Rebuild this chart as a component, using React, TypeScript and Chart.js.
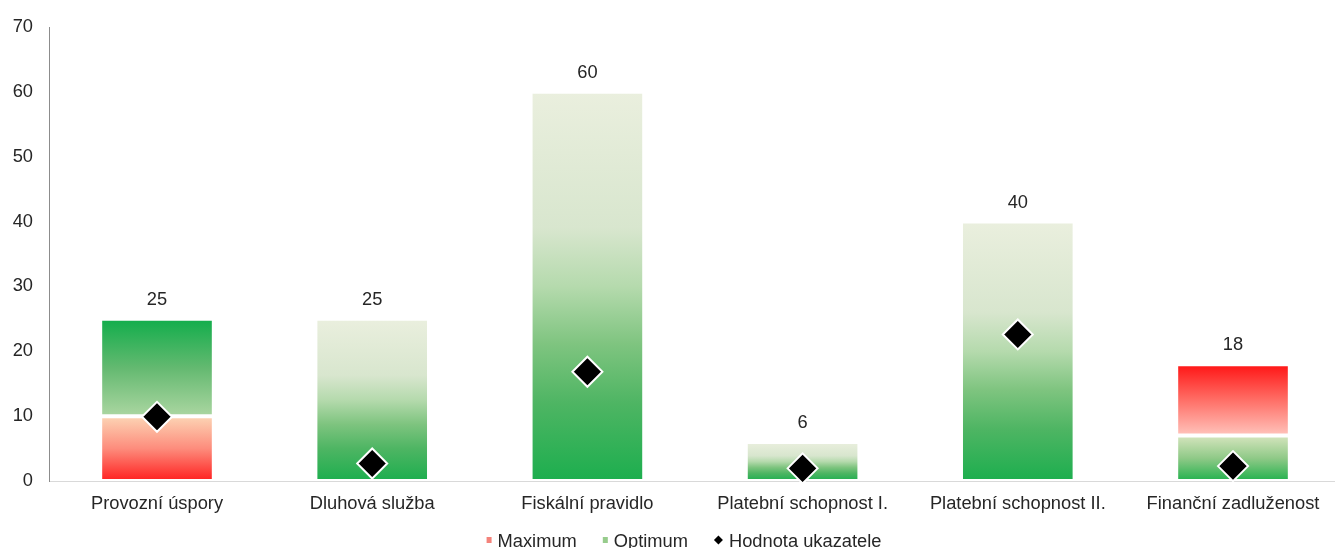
import React, { useEffect, useRef } from "react";
import { Chart, registerables } from "chart.js";

Chart.register(...registerables);

const categories = [
  "Provozní úspory",
  "Dluhová služba",
  "Fiskální pravidlo",
  "Platební schopnost I.",
  "Platební schopnost II.",
  "Finanční zadluženost",
];
const maximumStart: (number | null)[] = [0, null, null, null, null, 7];
const maximumEnd: (number | null)[] = [10, null, null, null, null, 18];
const optimumStart: number[] = [10, 0, 0, 0, 0, 0];
const optimumEnd: number[] = [25, 25, 60, 6, 40, 7];
const indicatorValues: number[] = [9.9, 2.7, 16.85, 1.95, 22.6, 2.3];
const totalLabels: number[] = [25, 25, 60, 6, 40, 18];
const yTicks = { min: 0, max: 70, step: 10 };
const legendLabels = ["Maximum", "Optimum", "Hodnota ukazatele"];

const FONT = "Arial, 'Liberation Sans', sans-serif";
const FS = 18.3;
const TEXT = "#262626";

type Stop = [number, string];
// gradient stops from bottom (0) to top (1)
const redUp: Stop[] = [[0, "#FF1F1F"], [0.5, "#FD8C7C"], [1, "#FCD5B5"]];
const redDown: Stop[] = [[0, "#FFC4BC"], [0.5, "#FF6E66"], [1, "#FF1414"]];
const greenLightBottom: Stop[] = [[0, "#ABD6A1"], [0.5, "#63B970"], [1, "#11AD4B"]];
const greenDarkBottom: Stop[] = [
  [0, "#1CAE4E"],
  [0.2, "#4EB563"],
  [0.35, "#7EC47F"],
  [0.5, "#B5DAAD"],
  [0.65, "#D8E6CE"],
  [1, "#EAEFDE"],
];
const greenSmall: Stop[] = [[0, "#22B14D"], [0.5, "#8FC987"], [1, "#D6E5BE"]];

const maximumStyles: (Stop[] | null)[] = [redUp, null, null, null, null, redDown];
const optimumStyles: Stop[][] = [
  greenLightBottom,
  greenDarkBottom,
  greenDarkBottom,
  greenDarkBottom,
  greenDarkBottom,
  greenSmall,
];

const legendMarkers = [
  { shape: "rect", color: "#F4837B", w: 5 },
  { shape: "rect", color: "#97CC8C", w: 5 },
  { shape: "diamond", color: "#000000", w: 9 },
];

function gradientFor(stylesArr: (Stop[] | null)[]) {
  return (ctx: any) => {
    const chart = ctx.chart;
    if (!chart.chartArea || ctx.type !== "data") return "#999";
    const raw = ctx.raw as [number, number] | null;
    const stops = stylesArr[ctx.dataIndex];
    if (!raw || !stops) return "rgba(0,0,0,0)";
    const ys = chart.scales.y;
    const yb = ys.getPixelForValue(raw[0]);
    const yt = ys.getPixelForValue(raw[1]);
    const g = chart.ctx.createLinearGradient(0, yb, 0, yt);
    stops.forEach(([o, c]) => g.addColorStop(o, c));
    return g;
  };
}

const totalsPlugin = {
  id: "totals",
  afterDatasetsDraw(chart: any) {
    const { ctx } = chart;
    const xs = chart.scales.x;
    const ys = chart.scales.y;
    ctx.save();
    ctx.font = `${FS}px ${FONT}`;
    ctx.fillStyle = TEXT;
    ctx.textAlign = "center";
    ctx.textBaseline = "middle";
    totalLabels.forEach((v, i) => {
      ctx.fillText(String(v), xs.getPixelForValue(i), ys.getPixelForValue(v) - 19);
    });
    ctx.restore();
  },
};

const legendPlugin = {
  id: "bottomLegend",
  afterDraw(chart: any) {
    const { ctx } = chart;
    ctx.save();
    ctx.font = `${FS}px ${FONT}`;
    const gapMarker = 6;
    const gapItem = 26;
    const widths = legendLabels.map((t) => ctx.measureText(t).width);
    let total = 0;
    legendLabels.forEach((_, i) => {
      total += legendMarkers[i].w + gapMarker + widths[i];
    });
    total += gapItem * (legendLabels.length - 1);
    let x = 684 - total / 2;
    const baseY = 547;
    const midY = 540;
    legendLabels.forEach((t, i) => {
      const m = legendMarkers[i];
      ctx.fillStyle = m.color;
      if (m.shape === "rect") {
        ctx.fillRect(x, midY - 3, m.w, 6);
      } else {
        const h = m.w / 2;
        ctx.beginPath();
        ctx.moveTo(x + h, midY - h);
        ctx.lineTo(x + m.w, midY);
        ctx.lineTo(x + h, midY + h);
        ctx.lineTo(x, midY);
        ctx.closePath();
        ctx.fill();
      }
      x += m.w + gapMarker;
      ctx.fillStyle = TEXT;
      ctx.textAlign = "left";
      ctx.textBaseline = "alphabetic";
      ctx.fillText(t, x, baseY);
      x += widths[i] + gapItem;
    });
    ctx.restore();
  },
};

export default function App() {
  const ref = useRef<HTMLCanvasElement | null>(null);
  useEffect(() => {
    if (!ref.current) return;
    const chart = new Chart(ref.current, {
      type: "bar",
      data: {
        labels: categories,
        datasets: [
          {
            type: "line",
            label: legendLabels[2],
            data: indicatorValues,
            showLine: false,
            pointStyle: "rectRot",
            pointRadius: 15,
            pointHoverRadius: 15,
            pointBackgroundColor: "#000000",
            pointBorderColor: "#FFFFFF",
            pointBorderWidth: 2,
            order: -1,
            clip: false,
          } as any,
          {
            label: legendLabels[0],
            data: maximumStart.map((s, i) => (s === null ? null : [s, maximumEnd[i] as number])) as any,
            backgroundColor: gradientFor(maximumStyles),
            borderColor: "#FFFFFF",
            borderWidth: 2,
            borderSkipped: false,
            grouped: false,
            categoryPercentage: 1,
            barPercentage: 0.528,
          } as any,
          {
            label: legendLabels[1],
            data: optimumStart.map((s, i) => [s, optimumEnd[i]]) as any,
            backgroundColor: gradientFor(optimumStyles),
            borderColor: "#FFFFFF",
            borderWidth: 2,
            borderSkipped: false,
            grouped: false,
            categoryPercentage: 1,
            barPercentage: 0.528,
          } as any,
        ],
      },
      options: {
        animation: false,
        responsive: false,
        devicePixelRatio: 1,
        layout: { autoPadding: false, padding: { left: 0, right: 4.4, top: 27, bottom: 0 } },
        scales: {
          x: {
            grid: { display: false, drawTicks: false },
            border: { display: true, color: "#D9D9D9", width: 1 },
            ticks: { color: TEXT, font: { family: FONT, size: FS }, padding: 12, maxRotation: 0, autoSkip: false },
            afterFit: (s: any) => {
              s.height = 67;
              s.paddingLeft = 0;
              s.paddingRight = 0;
            },
          },
          y: {
            min: yTicks.min,
            max: yTicks.max,
            grid: { display: false, drawTicks: false },
            border: { display: true, color: "#8C8C8C", width: 1 },
            ticks: { stepSize: yTicks.step, color: TEXT, font: { family: FONT, size: FS }, padding: 16.4 },
            afterFit: (s: any) => {
              s.width = 49.4;
              s.paddingTop = 0;
              s.paddingBottom = 0;
            },
          },
        },
        plugins: {
          tooltip: { enabled: false },
          legend: { display: false },
        },
      },
      plugins: [totalsPlugin, legendPlugin],
    });
    return () => chart.destroy();
  }, []);
  return (
    <div style={{ position: "absolute", left: 0, top: 0, width: 1335, height: 548, overflow: "hidden", background: "#fff" }}>
      <canvas ref={ref} width={1345} height={548} style={{ display: "block" }} />
    </div>
  );
}
